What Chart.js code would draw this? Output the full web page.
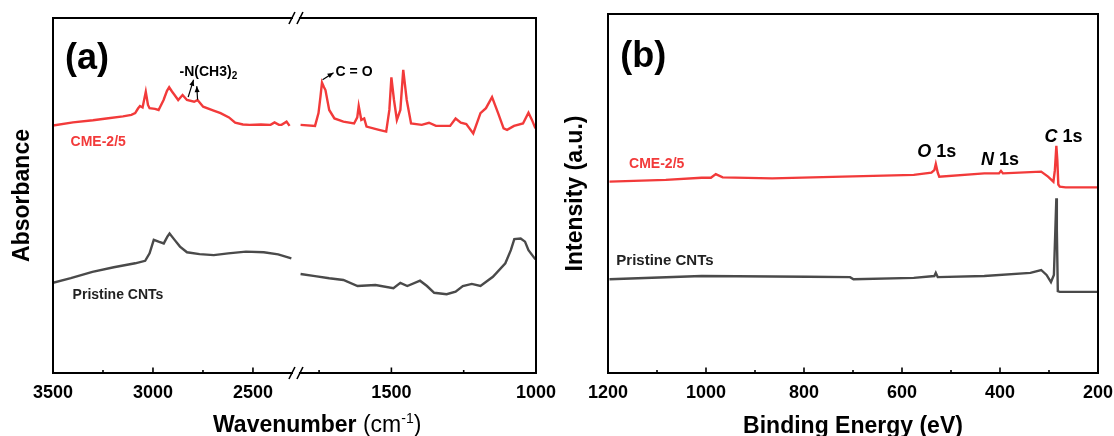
<!DOCTYPE html>
<html>
<head>
<meta charset="utf-8">
<script src="https://cdn.jsdelivr.net/npm/chart.js@4.4.1/dist/chart.umd.min.js"></script>
<style>
  html, body { margin: 0; padding: 0; background: #fff; }
  #wrap { position: relative; width: 1114px; height: 436px; overflow: hidden; }
  .panel { position: absolute; top: 0; width: 557px; height: 436px; }
  #panel-a { left: 0; }
  #panel-b { left: 557px; }
</style>
</head>
<body>
<div id="wrap">
  <div class="panel" id="panel-a"><canvas id="ftirChart" width="557" height="436"></canvas></div>
  <div class="panel" id="panel-b"><canvas id="xpsChart" width="557" height="436"></canvas></div>
</div>
<script>
// DONNÉES (a) : FTIR, axe coupé entre 2285 et 1830 cm-1
const ftirTicks = [3500, 3250, 3000, 2750, 2500, 1750, 1500, 1250, 1000];

const cmeWaveLeft = [3500, 3400, 3300, 3233, 3150, 3108, 3089, 3075, 3065, 3052, 3036, 3025, 3017, 2990, 2972, 2947, 2930, 2919, 2905, 2892, 2874, 2852, 2830, 2794, 2777, 2749, 2700, 2662, 2620, 2589, 2550, 2517, 2460, 2412, 2392, 2370, 2357, 2332, 2317];
const cmeAbsLeft  = [69.7, 70.6, 71.2, 71.7, 72.3, 72.7, 73.2, 74.5, 75.2, 74.8, 79.2, 75.5, 74.6, 74.4, 74.1, 76.9, 79.5, 80.5, 79.3, 78.3, 76.9, 78.3, 76.9, 76.4, 76.9, 75.0, 74.0, 73.2, 72.0, 70.5, 70.0, 69.9, 70.0, 69.9, 70.6, 69.9, 69.9, 70.8, 69.6];
const cmeWaveRight = [1814, 1764, 1752, 1745, 1740, 1733, 1728, 1715, 1697, 1666, 1629, 1618, 1613, 1604, 1594, 1586, 1543, 1518, 1507, 1500, 1491, 1481, 1469, 1459, 1447, 1432, 1395, 1370, 1346, 1297, 1278, 1260, 1241, 1217, 1192, 1173, 1152, 1131, 1112, 1100, 1076, 1045, 1026, 1014, 1002];
const cmeAbsRight  = [69.9, 69.6, 73.2, 78.0, 81.8, 80.5, 79.7, 74.1, 71.7, 70.8, 70.3, 72.0, 75.2, 71.3, 71.7, 69.4, 68.5, 68.0, 74.1, 83.3, 76.9, 71.3, 74.1, 85.4, 76.9, 70.3, 69.9, 70.5, 69.6, 69.6, 71.7, 70.5, 70.1, 67.5, 73.2, 74.6, 77.7, 73.2, 68.9, 68.5, 69.6, 70.3, 73.3, 71.3, 68.9];

const cntWaveLeft = [3500, 3411, 3303, 3196, 3089, 3039, 3017, 2996, 2972, 2946, 2928, 2917, 2892, 2865, 2830, 2767, 2696, 2624, 2535, 2446, 2374, 2308];
const cntAbsLeft  = [25.4, 26.7, 28.5, 29.8, 30.9, 31.6, 33.7, 37.5, 37.0, 36.5, 38.4, 39.3, 37.5, 35.6, 34.0, 33.5, 33.2, 33.7, 34.2, 34.0, 33.4, 32.3];
const cntWaveRight = [1814, 1764, 1715, 1666, 1617, 1555, 1493, 1469, 1445, 1401, 1377, 1352, 1309, 1278, 1253, 1222, 1192, 1149, 1106, 1087, 1075, 1053, 1038, 1026, 1002];
const cntAbsRight  = [27.9, 27.3, 26.7, 26.2, 24.5, 24.8, 23.9, 25.4, 24.5, 26.0, 24.5, 22.6, 22.2, 22.9, 24.5, 25.1, 24.5, 27.1, 30.9, 34.6, 37.7, 37.9, 37.0, 34.6, 32.0];

// DONNÉES (b) : XPS
const xpsTicks = [1200, 1100, 1000, 900, 800, 700, 600, 500, 400, 300, 200];
const cmeEnergy    = [1197, 1082, 1009, 990, 980, 966, 865, 721, 576, 540, 534, 531, 527, 524, 432, 402, 398, 394, 316, 302, 291, 288, 285, 283, 281, 278, 266, 201];
const cmeIntensity = [53.3, 53.8, 54.4, 54.4, 55.4, 54.5, 54.2, 54.7, 55.2, 55.8, 56.5, 58.2, 55.8, 54.7, 55.6, 55.6, 56.3, 55.6, 56.1, 54.7, 53.3, 56.5, 63.3, 59.3, 52.5, 51.9, 51.7, 51.7];
const cntEnergy    = [1197, 1009, 793, 706, 699, 576, 534, 531, 527, 432, 338, 316, 305, 296, 290, 287, 285, 284, 282, 278, 201];
const cntIntensity = [26.1, 27.0, 26.8, 26.7, 26.1, 26.5, 27.0, 27.9, 26.7, 27.0, 27.9, 28.7, 27.3, 25.3, 27.3, 40.0, 48.7, 40.0, 22.8, 22.6, 22.6];

// STYLES
const RED = '#f23a3a';
const GREY = '#4a4a4a';
const FONT = "'Liberation Sans', Arial, sans-serif";
Chart.defaults.font.family = FONT;
Chart.defaults.color = '#000';

// ÉCHELLE LINÉAIRE COUPÉE (deux segments côte à côte)
class BrokenScale extends Chart.LinearScale {
  getPixelForValue(value) {
    const segs = this.options.segments;
    let f = segs[0].start;
    for (const s of segs) {
      if (value <= s.from && value >= s.to) {
        f = s.start + (s.from - value) / (s.from - s.to) * (s.end - s.start);
        break;
      }
      if (value < s.to) f = s.end;
    }
    return this.left + f * this.width;
  }
  getValueForPixel(pixel) {
    const f = (pixel - this.left) / this.width;
    for (const s of this.options.segments) {
      if (f >= s.start && f <= s.end) return s.from - (f - s.start) / (s.end - s.start) * (s.from - s.to);
    }
    return null;
  }
  getBreakPixel() {
    return this.left + this.options.segments[0].end * this.width;
  }
}
BrokenScale.id = 'brokenLinear';
BrokenScale.defaults = {};
Chart.register(BrokenScale);

const ftirSegments = [
  { from: 3500, to: 2285, start: 0, end: 0.503 },
  { from: 1830, to: 1000, start: 0.503, end: 1 }
];

const toPoints = (xs, ys) => xs.map((x, i) => ({ x: x, y: ys[i] }));
const lineSet = (xs, ys, color) => ({
  data: toPoints(xs, ys),
  borderColor: color,
  borderWidth: 2.4,
  pointRadius: 0,
  tension: 0,
  fill: false
});

// CADRE + GRADUATIONS INTÉRIEURES + COUPURE //
const framePlugin = {
  id: 'frame',
  afterDraw(chart) {
    const { ctx, chartArea: a } = chart;
    const x = chart.scales.x;
    ctx.save();
    ctx.strokeStyle = '#000';
    ctx.lineWidth = 2;
    ctx.strokeRect(a.left, a.top, a.right - a.left, a.bottom - a.top);
    ctx.lineWidth = 1.6;
    x.ticks.forEach(t => {
      const px = x.getPixelForValue(t.value);
      const len = String(t.label) === '' ? 3 : 5.5;
      ctx.beginPath();
      ctx.moveTo(px, a.bottom);
      ctx.lineTo(px, a.bottom - len);
      ctx.stroke();
    });
    if (x.getBreakPixel) {
      const bx = x.getBreakPixel();
      [a.top, a.bottom].forEach(yy => {
        ctx.fillStyle = '#fff';
        ctx.fillRect(bx - 3, yy - 2, 6, 4);
        ctx.lineWidth = 1.6;
        ctx.beginPath();
        ctx.moveTo(bx - 7, yy + 6); ctx.lineTo(bx - 1, yy - 6);
        ctx.moveTo(bx + 1, yy + 6); ctx.lineTo(bx + 7, yy - 6);
        ctx.stroke();
      });
    }
    ctx.restore();
  }
};

// ANNOTATIONS (positions en unités des axes)
function notesPlugin(notes, arrows, tag) {
  return {
    id: 'notes' + tag,
    afterDatasetsDraw(chart) {
      const { ctx } = chart;
      const { x, y } = chart.scales;
      ctx.save();
      ctx.textBaseline = 'middle';
      notes.forEach(n => {
        let cx = x.getPixelForValue(n.x);
        const cy = y.getPixelForValue(n.y);
        ctx.fillStyle = n.color;
        n.parts.forEach(([txt, font, dy]) => {
          ctx.font = font + ' ' + FONT;
          ctx.fillText(txt, cx, cy + (dy || 0));
          cx += ctx.measureText(txt).width;
        });
      });
      ctx.strokeStyle = '#000';
      ctx.fillStyle = '#000';
      ctx.lineWidth = 1.2;
      arrows.forEach(ar => {
        const x0 = x.getPixelForValue(ar.from[0]), y0 = y.getPixelForValue(ar.from[1]);
        const x1 = x.getPixelForValue(ar.to[0]), y1 = y.getPixelForValue(ar.to[1]);
        const ang = Math.atan2(y1 - y0, x1 - x0);
        ctx.beginPath(); ctx.moveTo(x0, y0); ctx.lineTo(x1, y1); ctx.stroke();
        ctx.beginPath();
        ctx.moveTo(x1, y1);
        ctx.lineTo(x1 - 6 * Math.cos(ang) + 2.5 * Math.sin(ang), y1 - 6 * Math.sin(ang) - 2.5 * Math.cos(ang));
        ctx.lineTo(x1 - 6 * Math.cos(ang) - 2.5 * Math.sin(ang), y1 - 6 * Math.sin(ang) + 2.5 * Math.cos(ang));
        ctx.closePath(); ctx.fill();
      });
      ctx.restore();
    }
  };
}

// Titre de l'axe x (a) : gras + exposant en maigre
const wavenumberTitle = {
  id: 'wavenumberTitle',
  afterDraw(chart) {
    const { ctx, chartArea: a } = chart;
    const parts = [['Wavenumber ', 'bold 23px', 0], ['(cm', '23px', 0], ['-1', '14px', -9], [')', '23px', 0]];
    let cx = a.left + 160;
    ctx.save();
    ctx.fillStyle = '#000';
    ctx.textBaseline = 'alphabetic';
    parts.forEach(([txt, font, dy]) => {
      ctx.font = font + ' ' + FONT;
      ctx.fillText(txt, cx, 432 + dy);
      cx += ctx.measureText(txt).width;
    });
    ctx.restore();
  }
};

const ftirNotes = [
  { parts: [['(a)', 'bold 36px']], x: 3440, y: 88.5, color: '#000' },
  { parts: [['CME-2/5', 'bold 14px']], x: 3412, y: 65, color: RED },
  { parts: [['Pristine CNTs', 'bold 14px']], x: 3402, y: 22, color: '#222' },
  { parts: [['-N(CH3)', 'bold 14px'], ['2', 'bold 10px', 4]], x: 2867, y: 84.8, color: '#000' },
  { parts: [['C = O', 'bold 14px']], x: 1693, y: 84.8, color: '#000' }
];
const ftirArrows = [
  { from: [2824, 77.7], to: [2797, 82.6] },
  { from: [2777, 77.0], to: [2781, 80.8] },
  { from: [1738, 82.6], to: [1700, 84.6] }
];

const xpsNotes = [
  { parts: [['(b)', 'bold 36px']], x: 1175, y: 88, color: '#000' },
  { parts: [['CME-2/5', 'bold 14px']], x: 1157, y: 58.2, color: RED },
  { parts: [['Pristine CNTs', 'bold 15px']], x: 1183, y: 31.2, color: '#222' },
  { parts: [['O', 'italic bold 18px'], [' 1s', 'bold 18px']], x: 569, y: 61.6, color: '#000' },
  { parts: [['N', 'italic bold 18px'], [' 1s', 'bold 18px']], x: 439, y: 59.3, color: '#000' },
  { parts: [['C', 'italic bold 18px'], [' 1s', 'bold 18px']], x: 309, y: 65.6, color: '#000' }
];

const tickFont = { size: 18, weight: 'bold' };
const titleFont = { size: 23, weight: 'bold', lineHeight: 1 };

// GRAPHIQUE (a)
new Chart(document.getElementById('ftirChart'), {
  type: 'line',
  data: {
    datasets: [
      lineSet(cmeWaveLeft, cmeAbsLeft, RED),
      lineSet(cmeWaveRight, cmeAbsRight, RED),
      lineSet(cntWaveLeft, cntAbsLeft, GREY),
      lineSet(cntWaveRight, cntAbsRight, GREY)
    ]
  },
  options: {
    responsive: false,
    animation: false,
    devicePixelRatio: 1,
    layout: { padding: { top: 18, right: 21, bottom: 0, left: 0 } },
    plugins: { legend: { display: false }, tooltip: { enabled: false } },
    scales: {
      x: {
        type: 'brokenLinear',
        min: 1000,
        max: 3500,
        segments: ftirSegments,
        afterBuildTicks: s => { s.ticks = ftirTicks.map(v => ({ value: v })); },
        grid: { display: false, drawTicks: false },
        border: { display: false },
        ticks: {
          font: tickFont, color: '#000', padding: 9, maxRotation: 0, autoSkip: false,
          callback: v => (v % 500 === 0 ? String(v) : '')
        },
        afterFit: s => { s.height = 63; s.paddingLeft = 0; s.paddingRight = 0; }
      },
      y: {
        min: 0,
        max: 100,
        ticks: { display: false },
        grid: { display: false, drawTicks: false },
        border: { display: false },
        title: { display: true, text: 'Absorbance', font: titleFont, color: '#000', padding: { top: 11, bottom: 0 } },
        afterFit: s => { s.width = 53; s.paddingTop = 0; s.paddingBottom = 0; }
      }
    }
  },
  plugins: [framePlugin, notesPlugin(ftirNotes, ftirArrows, 'A'), wavenumberTitle]
});

// GRAPHIQUE (b)
new Chart(document.getElementById('xpsChart'), {
  type: 'line',
  data: {
    datasets: [
      lineSet(cmeEnergy, cmeIntensity, RED),
      lineSet(cntEnergy, cntIntensity, GREY)
    ]
  },
  options: {
    responsive: false,
    animation: false,
    devicePixelRatio: 1,
    layout: { padding: { top: 14, right: 16, bottom: 0, left: 0 } },
    plugins: { legend: { display: false }, tooltip: { enabled: false } },
    scales: {
      x: {
        type: 'linear',
        reverse: true,
        min: 200,
        max: 1200,
        afterBuildTicks: s => { s.ticks = xpsTicks.map(v => ({ value: v })); },
        grid: { display: false, drawTicks: false },
        border: { display: false },
        ticks: {
          font: tickFont, color: '#000', padding: 9, maxRotation: 0, autoSkip: false,
          callback: v => (v % 200 === 0 ? String(v) : '')
        },
        title: { display: true, text: 'Binding Energy (eV)', font: titleFont, color: '#000', padding: { top: 0, bottom: -2.5 } },
        afterFit: s => { s.height = 63; s.paddingLeft = 0; s.paddingRight = 0; }
      },
      y: {
        min: 0,
        max: 100,
        ticks: { display: false },
        grid: { display: false, drawTicks: false },
        border: { display: false },
        title: { display: true, text: 'Intensity (a.u.)', font: titleFont, color: '#000', padding: { top: 7.5, bottom: 0 } },
        afterFit: s => { s.width = 51; s.paddingTop = 0; s.paddingBottom = 0; }
      }
    }
  },
  plugins: [framePlugin, notesPlugin(xpsNotes, [], 'B')]
});
</script>
</body>
</html>
